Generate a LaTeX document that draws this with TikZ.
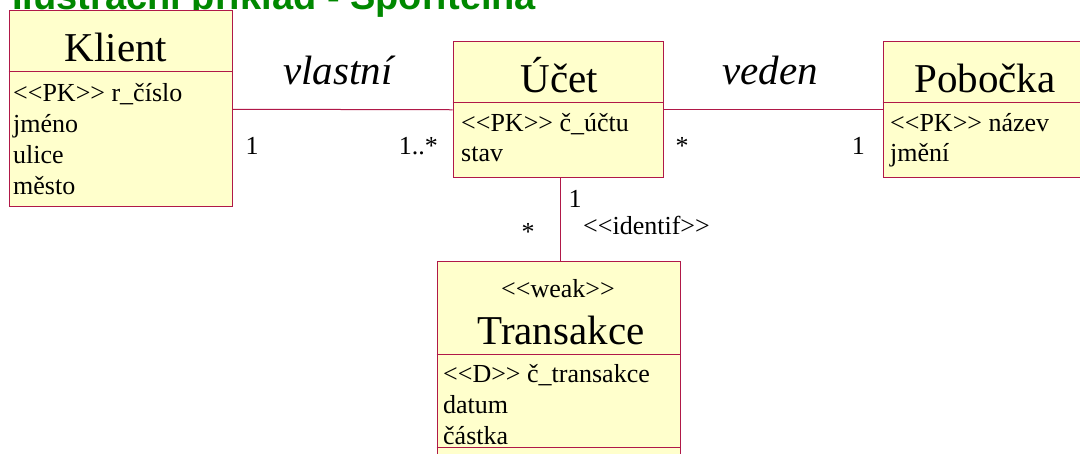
\documentclass[tikz,border=0pt]{standalone}
\usepackage{fontspec}
\setmainfont{Liberation Serif}[Ligatures=TeXOff]
\newfontfamily\titlesans{Liberation Sans}

\definecolor{umlfill}{RGB}{255,255,204}
\definecolor{umlline}{RGB}{176,24,72}
\definecolor{titlegreen}{RGB}{0,136,0}

\tikzset{
  classbox/.style={draw=umlline, fill=umlfill, line width=1pt, inner sep=0pt},
  classname/.style={font=\fontsize{41}{49}\selectfont, inner sep=0pt, anchor=base},
  attr/.style={font=\fontsize{26}{31}\selectfont, inner sep=0pt, anchor=base west},
  role/.style={font=\fontsize{41}{49}\selectfont\itshape, inner sep=0pt, anchor=base},
  mult/.style={font=\fontsize{26}{31}\selectfont, inner sep=0pt, anchor=base},
  assoc/.style={draw=umlline, line width=1pt}
}

\begin{document}
\begin{tikzpicture}[x=1pt, y=-1pt]
    \useasboundingbox (0,0) rectangle (1080,454);
    \clip (0,0) rectangle (1080,454);

    % Title (cut off)
    \node[anchor=base west, inner sep=0pt, text=titlegreen,
          font=\titlesans\bfseries\fontsize{38}{46}\selectfont] (title) at (-11,9.5)
          {) Ilustrační příklad - Spořitelna};

    % Klient
    \node[classbox, minimum width=223pt, minimum height=196pt] (klient) at (120.5,109) {};
    \draw[umlline, line width=1pt] (klient.west |- 0,72) -- (klient.east |- 0,72);
    \node[classname] (klientname) at (116,62) {Klient};
    \foreach \txt [count=\i from 0] in {{<<PK>> r\_číslo}, jméno, ulice, město}
        \node[attr] (klient\i) at (13,102+30.7*\i) {\txt};

    % Ucet
    \node[classbox, minimum width=210pt, minimum height=136pt] (ucet) at (558,110) {};
    \draw[umlline, line width=1pt] (ucet.west |- 0,103) -- (ucet.east |- 0,103);
    \node[classname] (ucetname) at (559.5,93) {Účet};
    \foreach \txt [count=\i from 0] in {{<<PK>> č\_účtu}, stav}
        \node[attr] (ucet\i) at (461,132+30*\i) {\txt};

    % Pobocka
    \node[classbox, minimum width=205pt, minimum height=136pt] (pobocka) at (985.5,110) {};
    \draw[umlline, line width=1pt] (pobocka.west |- 0,103) -- (pobocka.east |- 0,103);
    \node[classname] (pobockaname) at (985,93) {Pobočka};
    \foreach \txt [count=\i from 0] in {{<<PK>> název}, jmění}
        \node[attr] (pobocka\i) at (890,132+30*\i) {\txt};

    % Transakce
    \node[classbox, minimum width=243pt, minimum height=208pt] (transakce) at (558.5,366) {};
    \draw[umlline, line width=1pt] (transakce.west |- 0,355) -- (transakce.east |- 0,355);
    \draw[umlline, line width=1pt] (transakce.west |- 0,448) -- (transakce.east |- 0,448);
    \node[mult] (weak) at (558,298) {<<weak>>};
    \node[classname] (transakcename) at (561,345) {Transakce};
    \foreach \txt [count=\i from 0] in {{<<D>> č\_transakce}, datum, částka}
        \node[attr] (transakce\i) at (443,383+31*\i) {\txt};

    % Associations
    \draw[assoc] (klient) -- (ucet);
    \draw[assoc] (ucet) -- (pobocka);
    \draw[assoc] ([xshift=2pt]ucet.south) -- ([xshift=2pt]ucet.south |- transakce.north);

    % Labels
    \node[role] (vlastni) at (338,85) {vlastní};
    \node[role] (veden) at (770,85) {veden};
    \node[mult] (m1) at (252,155) {1};
    \node[mult, anchor=base east] (m2) at (438,155) {1..*};
    \node[mult] (m3) at (682,155) {*};
    \node[mult, anchor=base east] (m4) at (865,155) {1};
    \node[mult] (m5) at (575,208) {1};
    \node[mult] (m6) at (528,241) {*};
    \node[mult, anchor=base west] (ident) at (583,235) {<<identif>>};
\end{tikzpicture}
\end{document}
